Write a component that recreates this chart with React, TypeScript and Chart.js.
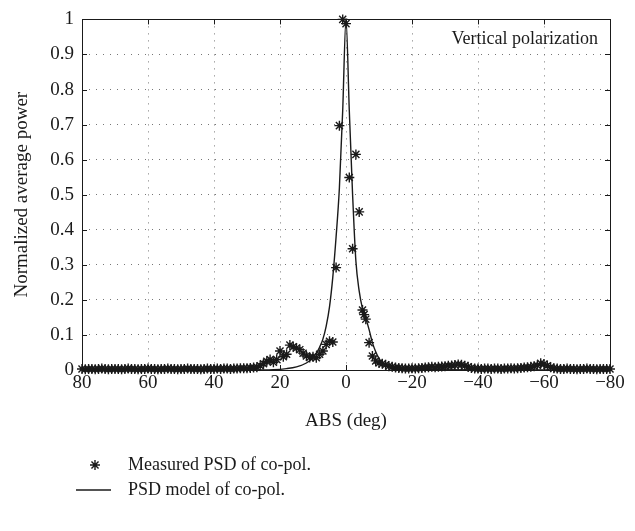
import React, { useEffect, useRef } from "react";
import { Chart, registerables } from "chart.js";

Chart.register(...registerables);

const xTicks = [80, 60, 40, 20, 0, -20, -40, -60, -80];
const yTicks = [0, 0.1, 0.2, 0.3, 0.4, 0.5, 0.6, 0.7, 0.8, 0.9, 1];

const xTitle = "ABS (deg)";
const yTitle = "Normalized average power";
const annotationText = "Vertical polarization";
const legendMeasured = "Measured PSD of co-pol.";
const legendModel = "PSD model of co-pol.";

const measuredAngles = [
  80, 79, 78, 77, 76, 75, 74, 73, 72, 71,
  70, 69, 68, 67, 66, 65, 64, 63, 62, 61,
  60, 59, 58, 57, 56, 55, 54, 53, 52, 51,
  50, 49, 48, 47, 46, 45, 44, 43, 42, 41,
  40, 39, 38, 37, 36, 35, 34, 33, 32, 31,
  30, 29, 28, 27, 26, 25, 24, 23, 22, 21,
  20, 19, 18, 17, 16, 15, 14, 13, 12, 11,
  10, 9, 8, 7, 6, 5, 4, 3, 2, 1,
  0, -1, -2, -3, -4, -5, -5.5, -6, -7, -8,
  -9, -10, -11, -12, -13, -14, -15, -16, -17, -18,
  -19, -20, -21, -22, -23, -24, -25, -26, -27, -28,
  -29, -30, -31, -32, -33, -34, -35, -36, -37, -38,
  -39, -40, -41, -42, -43, -44, -45, -46, -47, -48,
  -49, -50, -51, -52, -53, -54, -55, -56, -57, -58,
  -59, -60, -61, -62, -63, -64, -65, -66, -67, -68,
  -69, -70, -71, -72, -73, -74, -75, -76, -77, -78,
  -79, -80,
];

const measuredPower = [
  0.003, 0.002, 0.003, 0.003, 0.002, 0.003, 0.004, 0.003, 0.002, 0.003,
  0.003, 0.003, 0.002, 0.003, 0.004, 0.003, 0.003, 0.002, 0.003, 0.003,
  0.004, 0.003, 0.003, 0.002, 0.003, 0.003, 0.004, 0.003, 0.003, 0.002,
  0.003, 0.003, 0.004, 0.003, 0.003, 0.003, 0.002, 0.003, 0.004, 0.003,
  0.003, 0.004, 0.003, 0.004, 0.004, 0.003, 0.004, 0.004, 0.005, 0.005,
  0.005, 0.006, 0.007, 0.008, 0.012, 0.018, 0.025, 0.03, 0.022, 0.03,
  0.054, 0.038, 0.045, 0.071, 0.066, 0.063, 0.058, 0.048, 0.04, 0.036,
  0.038, 0.035, 0.045, 0.054, 0.073, 0.082, 0.08, 0.292, 0.697, 1.0,
  0.988, 0.549, 0.346, 0.615, 0.451, 0.171, 0.158, 0.145, 0.078, 0.04,
  0.026, 0.02, 0.018, 0.015, 0.011, 0.009, 0.007, 0.006, 0.005, 0.004,
  0.004, 0.005, 0.004, 0.005, 0.006, 0.007, 0.008, 0.009, 0.008, 0.009,
  0.01, 0.011, 0.012, 0.013, 0.014, 0.016, 0.015, 0.012, 0.009, 0.006,
  0.004, 0.004, 0.003, 0.004, 0.004, 0.003, 0.004, 0.004, 0.003, 0.004,
  0.004, 0.005, 0.004, 0.005, 0.006, 0.007, 0.008, 0.009, 0.011, 0.013,
  0.019, 0.017, 0.012, 0.008, 0.005, 0.004, 0.003, 0.003, 0.004, 0.003,
  0.003, 0.002, 0.003, 0.003, 0.004, 0.003, 0.003, 0.002, 0.003, 0.003,
  0.003, 0.003,
];

const modelAngles = [
  80, 30, 22, 18, 15, 12, 10, 9, 8, 7, 6, 5, 4, 3, 2, 1, 0,
  -1, -2, -3, -4, -5, -6, -7, -8, -9, -10, -11, -12, -14, -18, -80,
];
const modelPower = [
  0, 0, 0.001, 0.004, 0.009, 0.02, 0.035, 0.048, 0.065, 0.088, 0.125, 0.18, 0.265, 0.38, 0.52, 0.74, 1.0,
  0.74, 0.5, 0.31, 0.225, 0.175, 0.148, 0.115, 0.078, 0.052, 0.033, 0.02, 0.011, 0.004, 0.001, 0,
];

const FONT = '"Liberation Serif", "DejaVu Serif", serif';
const INK = "#1a1a1a";

function drawStar(ctx: CanvasRenderingContext2D, x: number, y: number, r: number) {
  ctx.beginPath();
  for (let i = 0; i < 4; i++) {
    const a = (i * Math.PI) / 4;
    ctx.moveTo(x - r * Math.cos(a), y - r * Math.sin(a));
    ctx.lineTo(x + r * Math.cos(a), y + r * Math.sin(a));
  }
  ctx.stroke();
}

const framePlugin = {
  id: "frame",
  beforeDatasetsDraw(chart: any) {
    const { ctx, chartArea: a, scales } = chart;
    ctx.save();
    ctx.strokeStyle = INK;
    ctx.lineWidth = 1;
    ctx.strokeRect(Math.round(a.left) + 0.5, Math.round(a.top) + 0.5, Math.round(a.right - a.left), Math.round(a.bottom - a.top));
    const tl = 5;
    ctx.beginPath();
    for (const v of xTicks) {
      const px = Math.round(scales.x.getPixelForValue(v)) + 0.5;
      ctx.moveTo(px, a.bottom);
      ctx.lineTo(px, a.bottom - tl);
      ctx.moveTo(px, a.top);
      ctx.lineTo(px, a.top + tl);
    }
    for (const v of yTicks) {
      const py = Math.round(scales.y.getPixelForValue(v)) + 0.5;
      ctx.moveTo(a.left, py);
      ctx.lineTo(a.left + tl, py);
      ctx.moveTo(a.right, py);
      ctx.lineTo(a.right - tl, py);
    }
    ctx.stroke();
    ctx.restore();
  },
  afterDraw(chart: any) {
    const { ctx, chartArea: a } = chart;
    ctx.save();
    ctx.fillStyle = INK;
    ctx.strokeStyle = INK;
    ctx.font = `18px ${FONT}`;
    ctx.textBaseline = "middle";
    ctx.textAlign = "right";
    ctx.fillText(annotationText, a.right - 12, a.top + 20);

    // legend
    ctx.textAlign = "left";
    ctx.font = `18px ${FONT}`;
    const lx = 128;
    const y1 = 465;
    const y2 = 490;
    ctx.fillText(legendMeasured, lx, y1);
    ctx.fillText(legendModel, lx, y2);
    ctx.lineWidth = 1.4;
    drawStar(ctx, 95, y1, 5);
    ctx.lineWidth = 1.3;
    ctx.beginPath();
    ctx.moveTo(76, y2);
    ctx.lineTo(111, y2);
    ctx.stroke();
    ctx.restore();
  },
};

export default function App() {
  const canvasRef = useRef<HTMLCanvasElement | null>(null);

  useEffect(() => {
    document.body.style.margin = "0";
    const canvas = canvasRef.current;
    if (!canvas) return;

    const measured = measuredAngles.map((x, i) => ({ x, y: measuredPower[i] }));
    const model = modelAngles.map((x, i) => ({ x, y: modelPower[i] }));

    const chart = new Chart(canvas, {
      type: "scatter",
      data: {
        datasets: [
          {
            label: legendModel,
            data: model,
            showLine: true,
            borderColor: INK,
            borderWidth: 1.4,
            pointRadius: 0,
            cubicInterpolationMode: "monotone",
            clip: false,
            order: 2,
          } as any,
          {
            label: legendMeasured,
            data: measured,
            showLine: false,
            pointStyle: "star",
            pointRadius: 5,
            borderColor: INK,
            backgroundColor: INK,
            borderWidth: 1.4,
            clip: false,
            order: 1,
          } as any,
        ],
      },
      options: {
        responsive: false,
        animation: false,
        events: [],
        layout: { padding: { left: 0, top: 15, right: 25, bottom: 99 } },
        plugins: {
          legend: { display: false },
          tooltip: { enabled: false },
        },
        scales: {
          x: {
            type: "linear",
            reverse: true,
            min: -80,
            max: 80,
            afterBuildTicks: (scale: any) => {
              scale.ticks = xTicks.map((v) => ({ value: v }));
            },
            afterFit: (scale: any) => {
              scale.height = 62;
            },
            ticks: {
              autoSkip: false,
              maxRotation: 0,
              padding: 2,
              color: INK,
              font: { family: FONT, size: 19 },
              callback: (v: any) => (Number(v) < 0 ? "\u2212" + Math.abs(Number(v)) : String(v)),
            },
            grid: {
              color: "#777",
              lineWidth: 1,
              drawTicks: false,
            },
            border: { display: false, dash: [1, 6] },
            title: {
              display: true,
              text: xTitle,
              color: INK,
              font: { family: FONT, size: 19 },
              padding: { top: 0, bottom: 0 },
            },
          },
          y: {
            type: "linear",
            min: 0,
            max: 1,
            afterBuildTicks: (scale: any) => {
              scale.ticks = yTicks.map((v) => ({ value: v }));
            },
            afterFit: (scale: any) => {
              scale.width = 82;
            },
            ticks: {
              autoSkip: false,
              padding: 8,
              color: INK,
              font: { family: FONT, size: 19 },
              callback: (v: any) => {
                const n = Number(v);
                if (n === 0) return "0";
                if (n === 1) return "1";
                return n.toFixed(1);
              },
            },
            grid: {
              color: "#777",
              lineWidth: 1,
              drawTicks: false,
            },
            border: { display: false, dash: [1, 6] },
            title: {
              display: true,
              text: yTitle,
              color: INK,
              font: { family: FONT, size: 19 },
              padding: { top: 11, bottom: 0 },
            },
          },
        },
      },
      plugins: [framePlugin],
    });

    return () => chart.destroy();
  }, []);

  return (
    <div style={{ width: 635, height: 531 }}>
      <canvas ref={canvasRef} width={635} height={531} style={{ display: "block" }} />
    </div>
  );
}
